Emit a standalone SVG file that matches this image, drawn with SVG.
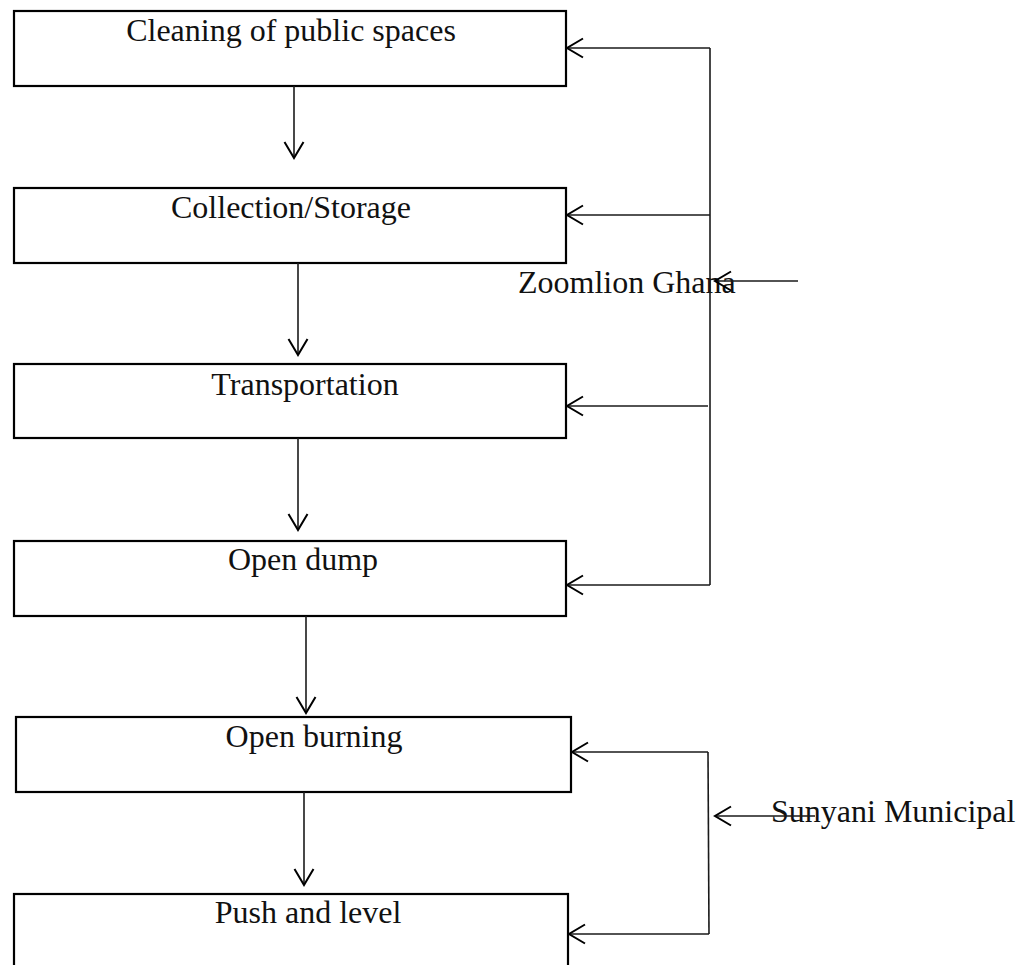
<svg xmlns="http://www.w3.org/2000/svg" width="1020" height="965" viewBox="0 0 1020 965">
  <style>
    .box { fill: #ffffff; stroke: #000000; stroke-width: 2.2; }
    .lbl { font-family: "Liberation Serif", "Times New Roman", serif; font-size: 32px; fill: #111111; }
    .mid { text-anchor: middle; }
    .conn { stroke: #1a1a1a; stroke-width: 1.6; fill: none; }
    .arr { marker-end: url(#chev); }
  </style>
  <defs>
    <marker id="chev" markerUnits="userSpaceOnUse" viewBox="-18 -11 20 22" refX="0" refY="0" markerWidth="20" markerHeight="22" orient="auto" overflow="visible">
      <path d="M-16,-9.5 L0,0 L-16,9.5" fill="none" stroke="#000000" stroke-width="2"/>
    </marker>
  </defs>
  <rect width="1020" height="965" fill="#ffffff"/>

  <!-- process steps -->
  <g id="cleaning">
    <rect class="box" x="14" y="11" width="552" height="75"/>
    <text class="lbl mid" x="291" y="41">Cleaning of public spaces</text>
  </g>
  <g id="collection">
    <rect class="box" x="14" y="188" width="552" height="75"/>
    <text class="lbl mid" x="291" y="218">Collection/Storage</text>
  </g>
  <g id="transportation">
    <rect class="box" x="14" y="364" width="552" height="74"/>
    <text class="lbl mid" x="305" y="395">Transportation</text>
  </g>
  <g id="open-dump">
    <rect class="box" x="14" y="541" width="552" height="75"/>
    <text class="lbl mid" x="303" y="570">Open dump</text>
  </g>
  <g id="open-burning">
    <rect class="box" x="16" y="717" width="555" height="75"/>
    <text class="lbl mid" x="314" y="747">Open burning</text>
  </g>
  <g id="push-level">
    <rect class="box" x="14" y="894" width="554" height="90"/>
    <text class="lbl mid" x="308" y="923">Push and level</text>
  </g>

  <!-- responsible agencies -->
  <g id="zoomlion">
    <text class="lbl" x="518" y="293">Zoomlion Ghana</text>
  </g>
  <g id="sunyani">
    <text class="lbl" x="771" y="822">Sunyani Municipal</text>
  </g>

  <g id="connectors">
    <!-- main flow -->
    <line class="conn arr" x1="294" y1="86" x2="294" y2="158"/>
    <line class="conn arr" x1="298" y1="263" x2="298" y2="355"/>
    <line class="conn arr" x1="298" y1="438" x2="298" y2="530"/>
    <line class="conn arr" x1="306" y1="616" x2="306" y2="713"/>
    <line class="conn arr" x1="304" y1="792" x2="304" y2="885"/>

    <!-- Zoomlion Ghana bracket -->
    <line class="conn" x1="710" y1="48" x2="710" y2="585"/>
    <line class="conn arr" x1="710" y1="48" x2="567" y2="48"/>
    <line class="conn arr" x1="710" y1="215" x2="567" y2="215"/>
    <line class="conn arr" x1="708" y1="406" x2="567" y2="406"/>
    <line class="conn arr" x1="710" y1="585" x2="567" y2="585"/>
    <line class="conn arr" x1="798" y1="281" x2="715" y2="281"/>

    <!-- Sunyani Municipal bracket -->
    <line class="conn" x1="708" y1="752" x2="709" y2="934"/>
    <line class="conn arr" x1="708" y1="752" x2="572" y2="752"/>
    <line class="conn arr" x1="709" y1="934" x2="569" y2="934"/>
    <line class="conn arr" x1="815" y1="816" x2="715" y2="816"/>
  </g>
</svg>
